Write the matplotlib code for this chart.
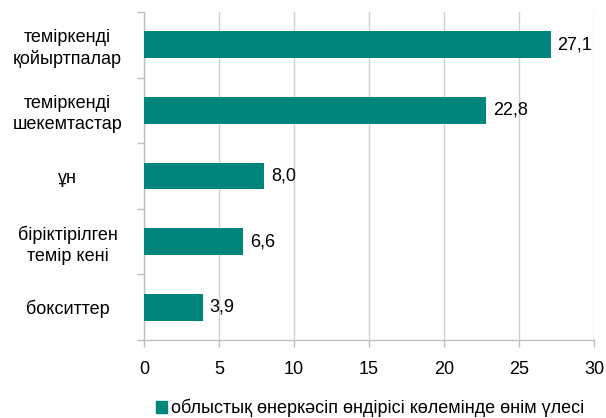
import matplotlib
matplotlib.use("Agg")
import matplotlib.pyplot as plt
from matplotlib.patches import Patch

plt.rcParams['font.family'] = ['Liberation Sans', 'DejaVu Sans']

categories = ["темiркендi\nқойыртпалар", "темiркендi\nшекемтастар", "ұн",
              "бiрiктiрiлген\nтемiр кенi", "бокситтер"]
values = [27.1, 22.8, 8.0, 6.6, 3.9]
labels = ["27,1", "22,8", "8,0", "6,6", "3,9"]
legend_label = "облыстық өнеркәсіп өндірісі көлемінде өнім үлесі"
xticks = [0, 5, 10, 15, 20, 25, 30]

color = "#00857D"
fs = 13
fig = plt.figure(figsize=(6.06, 4.18), dpi=100)
ax = fig.add_axes([144/606, 1-340/418, 450/606, 328/418])

n = len(categories)
ypos = list(range(n))
ax.barh(ypos, values, height=0.41, color=color, zorder=3)
ax.set_ylim(n - 0.5, -0.5)
ax.set_xlim(0, 30)
ax.set_xticks(xticks)
ax.set_xticklabels([str(t) for t in xticks], fontsize=fs)
ax.set_yticks(ypos)
ax.set_yticklabels(categories, fontsize=fs, ha='center', linespacing=1.25)
ax.tick_params(axis='y', length=0, pad=55)
ax.tick_params(axis='x', length=5, color='#BFBFBF', width=1, pad=10)

ax.set_yticks([i - 0.5 for i in range(n + 1)], minor=True)
ax.tick_params(axis='y', which='minor', length=5, color='#BFBFBF', width=1)

ax.grid(axis='x', color='#D0D0D0', linewidth=1, zorder=0)
for s in ['top', 'right']:
    ax.spines[s].set_visible(False)
for s in ['left', 'bottom']:
    ax.spines[s].set_color('#BFBFBF')
    ax.spines[s].set_linewidth(1)

for y, v, l in zip(ypos, values, labels):
    ax.text(v + 0.45, y, l, va='center', ha='left', fontsize=fs, zorder=4)

fig.legend(handles=[Patch(color=color, label=legend_label)], loc='center',
           bbox_to_anchor=(370/606, 1-408/418), frameon=False, fontsize=fs,
           handlelength=0.6, handleheight=0.7, handletextpad=0.2)

fig.savefig("out.png", dpi=100)
